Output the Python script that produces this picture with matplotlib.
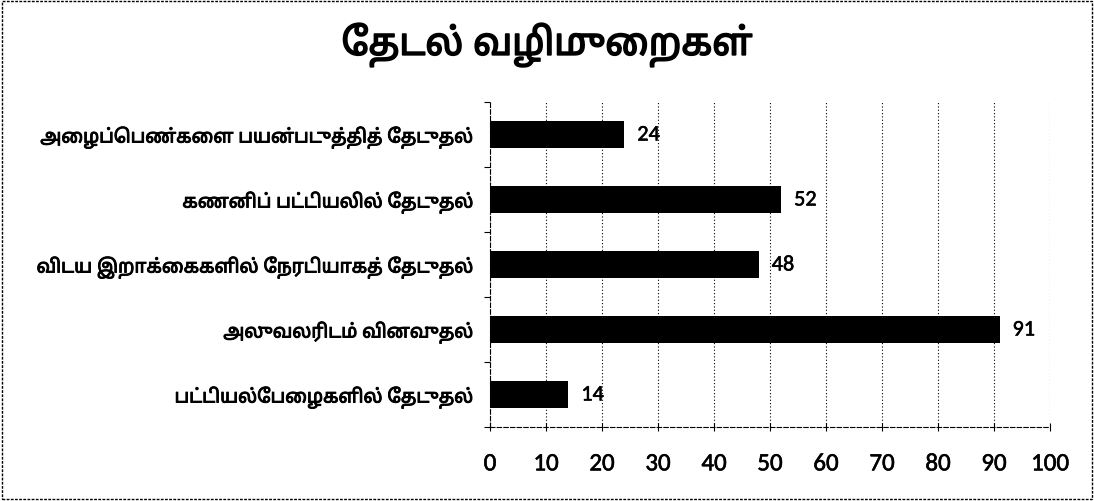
import matplotlib
matplotlib.use("Agg")
import matplotlib.pyplot as plt
import matplotlib.patheffects as pe
from matplotlib.patches import Rectangle

# chart data (top to bottom as in the reference)
title = "தேடல் வழிமுறைகள்"
methods = [
    "அழைப்பெண்களை பயன்படுத்தித் தேடுதல்",
    "கணனிப் பட்டியலில் தேடுதல்",
    "விடய இறாக்கைகளில் நேரடியாகத் தேடுதல்",
    "அலுவலரிடம் வினவுதல்",
    "பட்டியல்பேழைகளில் தேடுதல்",
]
counts = [24, 52, 48, 91, 14]
x_ticks = [0, 10, 20, 30, 40, 50, 60, 70, 80, 90, 100]

tamil_font = ["Noto Sans Tamil", "Lohit Tamil", "DejaVu Sans"]
num_font = ["Carlito", "Liberation Sans Narrow", "DejaVu Sans"]


def visual_order(s):
    # matplotlib has no text shaping: put the left-side vowel signs
    # (e, ee, ai) in front of their consonant so they draw where they belong
    split = {"\u0BCA": "\u0BC6\u0BBE", "\u0BCB": "\u0BC7\u0BBE", "\u0BCC": "\u0BC6\u0BD7"}
    chars = []
    for ch in s:
        chars.extend(split.get(ch, ch))
    out = []
    for ch in chars:
        if ch in "\u0BC6\u0BC7\u0BC8" and out:
            out.insert(len(out) - 1, ch)
        else:
            out.append(ch)
    return "".join(out)


bold = [pe.withStroke(linewidth=0.7, foreground="black")]
semibold = [pe.withStroke(linewidth=0.4, foreground="black")]

W, H = 1094, 502
fig = plt.figure(figsize=(W / 100, H / 100), dpi=100)
ax = fig.add_axes([490 / W, (H - 428) / H, 560 / W, 325 / H])

pos = list(range(len(methods)))
ax.barh(pos, counts, height=0.42, color="black", zorder=3)
for p, v in zip(pos, counts):
    ax.text(v + 2.3, p, str(v), va="center", ha="left", fontsize=16,
            family=num_font, zorder=4, path_effects=semibold)

ax.set_xlim(0, 100)
ax.set_ylim(len(methods) - 0.5, -0.5)
ax.set_xticks(x_ticks)
ax.set_xticklabels([str(t) for t in x_ticks], family=num_font, fontsize=18)
for lab in ax.get_xticklabels():
    lab.set_path_effects(semibold)
ax.set_yticks(pos)
ax.set_yticklabels([visual_order(m) for m in methods], family=tamil_font,
                   fontsize=13.5)
for lab in ax.get_yticklabels():
    lab.set_path_effects(bold)
ax.set_yticks([p - 0.5 for p in pos] + [len(methods) - 0.5], minor=True)
ax.tick_params(axis="y", which="major", length=0, pad=12)
ax.tick_params(axis="y", which="minor", length=4, direction="out", width=0.8)
ax.tick_params(axis="x", length=6, direction="inout", width=0.8, pad=16)

ax.grid(axis="x", color="black", linestyle=(0, (1, 2)), linewidth=0.8, zorder=0)
for side in ["top", "right"]:
    ax.spines[side].set_visible(False)
for side in ["left", "bottom"]:
    ax.spines[side].set_linestyle((0, (4, 2)))
    ax.spines[side].set_linewidth(0.8)

fig.text(0.5, 1 - 46 / H, visual_order(title), ha="center", va="center",
         fontsize=27, family=tamil_font,
         path_effects=[pe.withStroke(linewidth=1.2, foreground="black")])

fig.patches.append(Rectangle((0.002, 0.003), 0.996, 0.994, transform=fig.transFigure,
                             fill=False, edgecolor="black", linewidth=1,
                             linestyle=(0, (2, 1))))

fig.savefig("out.png", dpi=100)
